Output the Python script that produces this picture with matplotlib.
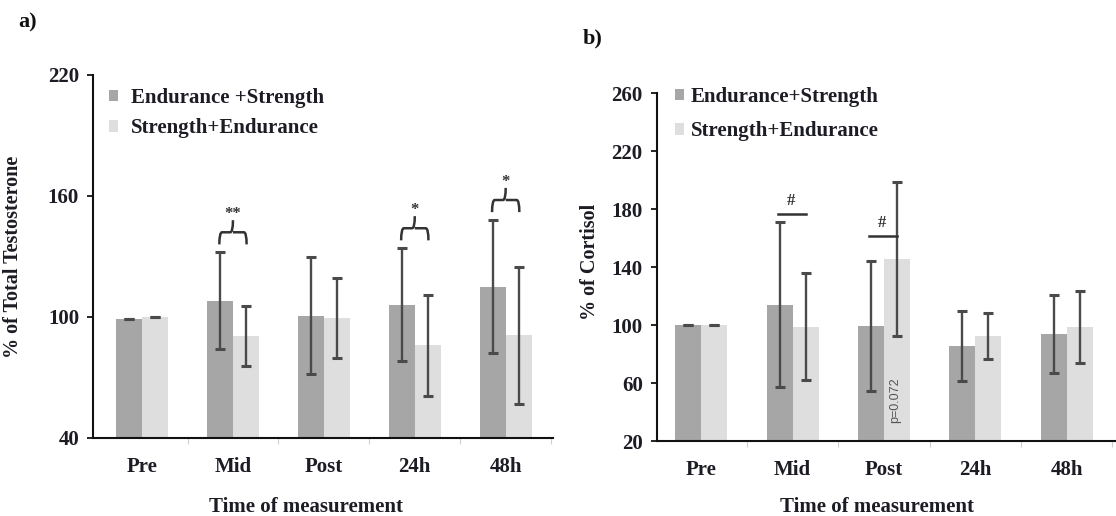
import matplotlib
matplotlib.use("Agg")
import matplotlib.pyplot as plt
import numpy as np
from matplotlib.path import Path
from matplotlib.patches import PathPatch

plt.rcParams['font.family'] = ['Liberation Serif', 'DejaVu Serif']
plt.rcParams['font.weight'] = 'bold'
plt.rcParams['axes.labelweight'] = 'bold'

times = ['Pre', 'Mid', 'Post', '24h', '48h']

# a) total testosterone, % of baseline
testo_es = [99, 108, 100.5, 106, 115]
testo_es_sd = [0, 24, 29, 28, 33]
testo_se = [100, 90.6, 99.5, 86, 91]
testo_se_sd = [0, 15, 20, 25, 34]
testo_sig = ['', '**', '', '*', '*']

# b) cortisol, % of baseline
cort_es = [100, 114, 99.5, 85.7, 93.8]
cort_es_sd = [0, 57, 45, 24, 27]
cort_se = [100, 98.8, 145.5, 92.4, 98.8]
cort_se_sd = [0, 37, 53, 16, 25]
cort_hash_at = [1, 2]
cort_hash_y = [176.5, 161.5]

lab_es_a = 'Endurance +Strength'
lab_es_b = 'Endurance+Strength'
lab_se = 'Strength+Endurance'

DARK = '#a6a6a6'
LIGHT = '#dedede'
ERR = '#4a4a4a'
TXT = '#1c1c24'
W = 0.285

fig = plt.figure(figsize=(11.16, 5.16), dpi=100)
axa = fig.add_axes([0.0833, 0.1512, 0.4122, 0.7035])
axb = fig.add_axes([0.5883, 0.1453, 0.4117, 0.6744])


def bars(ax, m1, s1, m2, s2, lab1):
    x = np.arange(len(times))
    b1 = ax.bar(x - W / 2, m1, W, color=DARK, label=lab1, zorder=2)
    b2 = ax.bar(x + W / 2, m2, W, color=LIGHT, label=lab_se, zorder=2)
    for xs, m, s in ((x - W / 2, m1, s1), (x + W / 2, m2, s2)):
        ax.errorbar(xs, m, yerr=s, fmt='none', ecolor=ERR, elinewidth=1.7,
                    capsize=3.8, capthick=2.2, zorder=3)
    return b1, b2


def style(ax, lo, hi, step, xl):
    ax.set_xlim(*xl)
    ax.set_ylim(lo, hi)
    ax.set_yticks(np.arange(lo, hi + 1, step))
    ax.set_xticks(range(len(times)))
    ax.set_xticklabels(times)
    ax.set_xticks(np.arange(0.5, xl[1], 1.0), minor=True)
    for s in ('top', 'right'):
        ax.spines[s].set_visible(False)
    for s in ('left', 'bottom'):
        ax.spines[s].set_linewidth(1.5)
        ax.spines[s].set_color('#111111')
    ax.tick_params(axis='y', length=4, width=1.2, pad=6, labelsize=15,
                   labelcolor=TXT)
    ax.tick_params(axis='x', which='major', length=0, pad=14, labelsize=15,
                   labelcolor=TXT)
    ax.tick_params(axis='x', which='minor', length=4, width=0.8,
                   color='#d0d0d0')
    ax.set_xlabel('Time of measurement', fontsize=15, color=TXT)


def bracket(ax, xc, half, yb, rise, tip, mark):
    x0, x1 = xc - half, xc + half
    yh = yb + rise
    r = 0.03
    verts = [(x0, yb), (x0, yh), (x0 + r, yh), (xc - r, yh), (xc, yh),
             (xc, yh + tip), (xc, yh), (xc + r, yh), (x1 - r, yh),
             (x1, yh), (x1, yb)]
    codes = [Path.MOVETO, Path.CURVE3, Path.CURVE3, Path.LINETO, Path.CURVE3,
             Path.CURVE3, Path.MOVETO, Path.CURVE3, Path.LINETO,
             Path.CURVE3, Path.CURVE3]
    ax.add_patch(PathPatch(Path(verts, codes), fill=False, lw=1.8,
                           edgecolor='#333333', zorder=4))
    ax.text(xc, yh + tip + 3, mark, ha='center', va='center', fontsize=12,
            color='#333333')


# a) testosterone
bars(axa, testo_es, testo_es_sd, testo_se, testo_se_sd, lab_es_a)
style(axa, 40, 220, 60, (-0.54, 4.52))
axa.set_ylabel('% of Total Testosterone', fontsize=14.5, color=TXT)
axa.yaxis.set_label_coords(-0.152, 0.5)
axa.xaxis.set_label_coords(0.463, -0.162)
for i, mk in enumerate(testo_sig):
    if mk:
        bracket(axa, i, 0.15, testo_es[i] + testo_es_sd[i] + 4, 6, 6, mk)
axa.legend(loc='upper left', bbox_to_anchor=(0.035, 0.964), frameon=False,
           fontsize=15, handlelength=0.45, handleheight=0.45,
           handletextpad=0.6, labelspacing=0.5, borderpad=0,
           borderaxespad=0, labelcolor=TXT)

# b) cortisol
bars(axb, cort_es, cort_es_sd, cort_se, cort_se_sd, lab_es_b)
style(axb, 20, 260, 40, (-0.49, 4.54))
axb.set_ylabel('% of Cortisol', fontsize=14.5, color=TXT)
axb.yaxis.set_label_coords(-0.123, 0.514)
axb.xaxis.set_label_coords(0.48, -0.16)
for i, yh in zip(cort_hash_at, cort_hash_y):
    axb.plot([i - 0.16, i + W / 2], [yh, yh], color='#333333', lw=1.8,
             zorder=4)
    axb.text(i - 0.02, yh + 9, '#', ha='center', va='center', fontsize=12,
             color='#333333')
axb.text(2.12, 48, 'p=0.072', rotation=90, ha='center', va='center',
         fontsize=9, fontweight='normal', color='#555555',
         family=['Liberation Sans', 'DejaVu Sans'], zorder=4)
axb.legend(loc='upper left', bbox_to_anchor=(0.04, 1.018), frameon=False,
           fontsize=15, handlelength=0.45, handleheight=0.45,
           handletextpad=0.3, labelspacing=0.7, borderpad=0,
           borderaxespad=0, labelcolor=TXT)

fig.text(0.016, 0.957, 'a)', fontsize=16, color='#111111', va='center')
fig.text(0.522, 0.926, 'b)', fontsize=16, color='#111111', va='center')

fig.savefig('out.png', dpi=100, facecolor='white')
